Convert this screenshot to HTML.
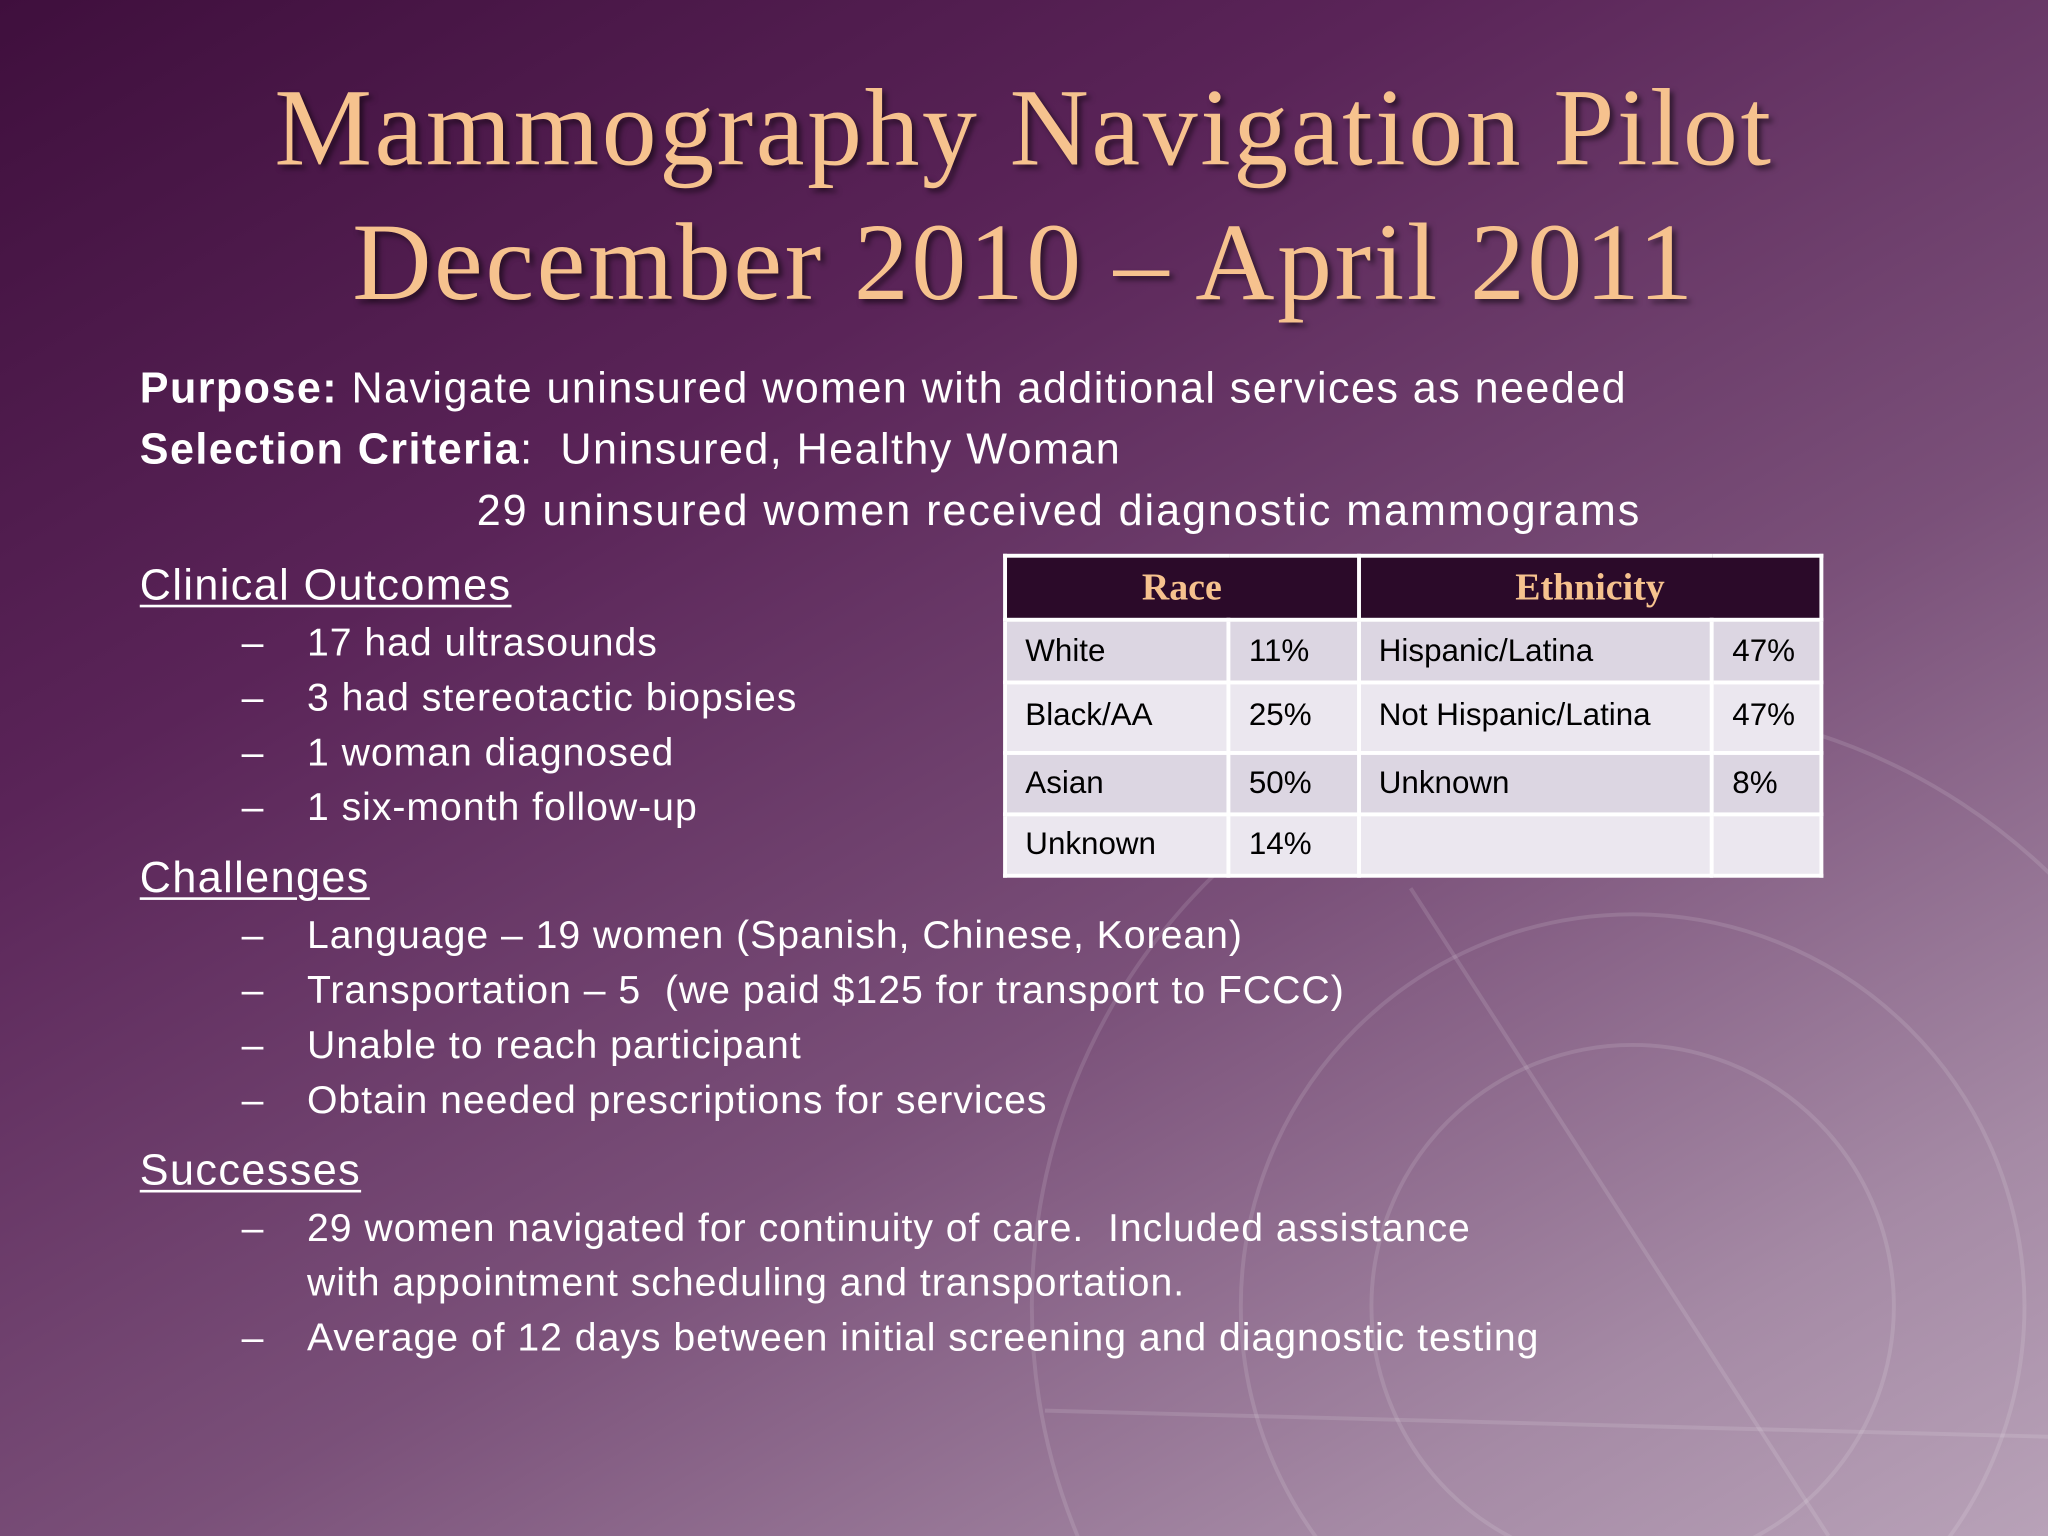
<!DOCTYPE html>
<html><head><meta charset="utf-8"><style>
html,body{margin:0;padding:0;width:2048px;height:1536px;overflow:hidden;position:relative}
#slide{position:absolute;left:0;top:0;width:1568px;height:1176px;transform:scale(1.306122);transform-origin:0 0;
background:linear-gradient(150deg,#3f0f3d 0%,#5a2458 30%,#7a5079 60%,#a58aa5 85%,#b8a2b8 100%);overflow:hidden;font-family:"Liberation Sans",sans-serif;color:#fff}
.t{position:absolute;white-space:nowrap}
.title{left:0;width:1568px;text-align:center;font-family:"Liberation Serif",serif;font-size:84px;letter-spacing:2px;color:#f6c28e;text-shadow:3px 3px 4px rgba(0,0,0,.5)}
.b{font-size:33px;line-height:36px;letter-spacing:1.1px}
.s{font-size:30px;line-height:36px;letter-spacing:0.75px}
.u{text-decoration:underline;text-underline-offset:4px;text-decoration-thickness:2px}
table{position:absolute;left:768px;top:424px;width:628px;border-collapse:collapse;font-size:24px;color:#000}
td,th{border:3px solid #fff;padding:0 0 0 14px;text-align:left}
th{background:#2b0a29;color:#f6c28e;font-family:"Liberation Serif",serif;font-size:29px;text-align:center;height:46px;padding:0}
tr.a td{background:#dcd6e2}tr.c td{background:#ebe7ef}
</style></head><body>
<div id="slide">
<svg style="position:absolute;left:0;top:0" width="1568" height="1176">
<g fill="none" stroke="rgba(255,255,255,0.12)" stroke-width="3">
<circle cx="1250" cy="1000" r="460"/><circle cx="1250" cy="1000" r="300"/><circle cx="1250" cy="1000" r="200"/>
<line x1="1080" y1="680" x2="1400" y2="1176"/><line x1="800" y1="1080" x2="1568" y2="1100"/>
</g></svg>
<div class="t title" style="top:50px">Mammography Navigation Pilot</div>
<div class="t title" style="top:153px">December 2010 – April 2011</div>
<div class="t b" style="left:107px;top:279px"><b>Purpose:</b> Navigate uninsured women with additional services as needed</div>
<div class="t b" style="left:107px;top:326px"><b>Selection Criteria</b>:&nbsp; Uninsured, Healthy Woman</div>
<div class="t b" style="left:365px;top:373px;letter-spacing:1.5px">29 uninsured women received diagnostic mammograms</div>
<div class="t b u" style="left:107px;top:430px">Clinical Outcomes</div>
<div class="t s" style="left:185px;top:475px">–</div><div class="t s" style="left:235px;top:475px">17 had ultrasounds</div>
<div class="t s" style="left:185px;top:517px">–</div><div class="t s" style="left:235px;top:517px">3 had stereotactic biopsies</div>
<div class="t s" style="left:185px;top:559px">–</div><div class="t s" style="left:235px;top:559px">1 woman diagnosed</div>
<div class="t s" style="left:185px;top:601px">–</div><div class="t s" style="left:235px;top:601px">1 six-month follow-up</div>
<div class="t b u" style="left:107px;top:654px">Challenges</div>
<div class="t s" style="left:185px;top:699px">–</div><div class="t s" style="left:235px;top:699px">Language – 19 women (Spanish, Chinese, Korean)</div>
<div class="t s" style="left:185px;top:741px">–</div><div class="t s" style="left:235px;top:741px">Transportation – 5&nbsp; (we paid $125 for transport to FCCC)</div>
<div class="t s" style="left:185px;top:783px">–</div><div class="t s" style="left:235px;top:783px">Unable to reach participant</div>
<div class="t s" style="left:185px;top:825px">–</div><div class="t s" style="left:235px;top:825px">Obtain needed prescriptions for services</div>
<div class="t b u" style="left:107px;top:878px">Successes</div>
<div class="t s" style="left:185px;top:923px">–</div><div class="t s" style="left:235px;top:923px">29 women navigated for continuity of care.&nbsp; Included assistance</div>
<div class="t s" style="left:235px;top:965px">with appointment scheduling and transportation.</div>
<div class="t s" style="left:185px;top:1007px">–</div><div class="t s" style="left:235px;top:1007px">Average of 12 days between initial screening and diagnostic testing</div>
<table>
<colgroup><col style="width:172px"><col style="width:100px"><col style="width:272px"><col style="width:84px"></colgroup>
<tr><th colspan="2">Race</th><th colspan="2">Ethnicity</th></tr>
<tr class="a" style="height:48px"><td>White</td><td>11%</td><td>Hispanic/Latina</td><td>47%</td></tr>
<tr class="c" style="height:54px"><td style="vertical-align:top;padding-top:10px">Black/AA</td><td style="vertical-align:top;padding-top:10px">25%</td><td style="vertical-align:top;padding-top:10px">Not Hispanic/Latina</td><td style="vertical-align:top;padding-top:10px">47%</td></tr>
<tr class="a" style="height:47px"><td>Asian</td><td>50%</td><td>Unknown</td><td>8%</td></tr>
<tr class="c" style="height:47px"><td>Unknown</td><td>14%</td><td></td><td></td></tr>
</table>
</div>
</body></html>
